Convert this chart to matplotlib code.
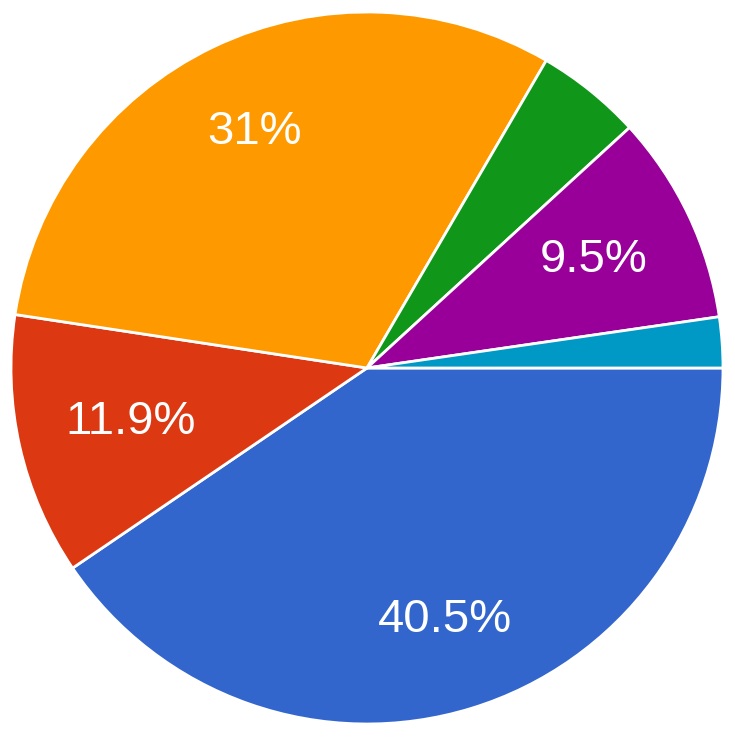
import matplotlib
matplotlib.use('Agg')
import matplotlib.pyplot as plt
import numpy as np

# slice values, clockwise from 3 o'clock
wartosci = [40.5, 11.9, 31.0, 4.8, 9.5, 2.3]
etykiety = ['40.5%', '11.9%', '31%', '', '9.5%', '']
kolory = ['#3366cc', '#dc3912', '#ff9900', '#109618', '#990099', '#0099c6']

# how far out from the centre each label sits (fraction of radius)
odleglosc_etykiet = [0.74, 0.68, 0.735, 0.7, 0.705, 0.7]

W, H = 735, 738
cx, cy, r = 367, 368, 356

fig = plt.figure(figsize=(W / 100, H / 100), dpi=100)
ax = fig.add_axes([0, 0, 1, 1])

kliny, teksty = ax.pie(
    wartosci,
    labels=None,
    colors=kolory,
    startangle=0,
    counterclock=False,
    radius=1.0,
    wedgeprops=dict(edgecolor='white', linewidth=2),
)

# percent labels placed like Google Charts
kat = 0.0
for w, et, d in zip(wartosci, etykiety, odleglosc_etykiet):
    srodek = kat - w / 100 * 360 / 2
    kat -= w / 100 * 360
    if not et:
        continue
    x = d * np.cos(np.radians(srodek))
    y = d * np.sin(np.radians(srodek))
    ax.text(x, y, et, ha='center', va='center', color='white',
            fontsize=34, family=['Liberation Sans', 'DejaVu Sans'])

ax.set_xlim(-cx / r, (W - cx) / r)
ax.set_ylim(-(H - cy) / r, cy / r)
ax.set_aspect('equal')
ax.axis('off')

fig.savefig('out.png', dpi=100, facecolor='white')
